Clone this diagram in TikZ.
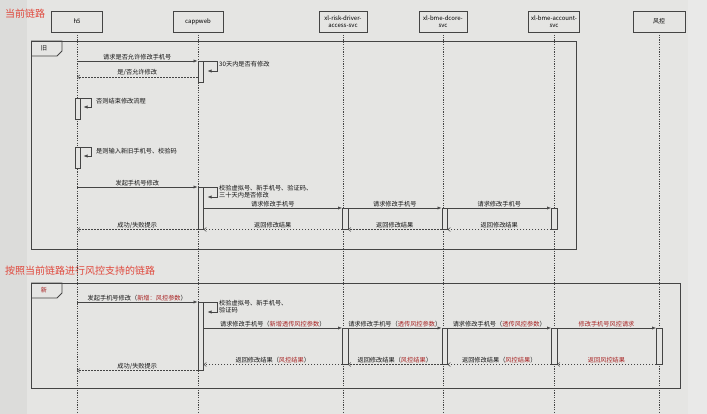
\documentclass[tikz,border=0pt]{standalone}
\usepackage{fontspec}
\setmainfont{Noto Sans CJK SC}
\usetikzlibrary{arrows.meta}
\definecolor{pagegray}{HTML}{DCDCDA}
\definecolor{sidegray}{HTML}{E9E9E8}
\definecolor{sheetgray}{HTML}{E5E5E3}
\definecolor{linegray}{HTML}{444444}
\definecolor{titlered}{HTML}{E0483C}
\definecolor{riskred}{HTML}{A82222}
\newcommand{\hl}[1]{\textcolor{riskred}{#1}}
\tikzset{
  head/.style={draw=linegray, fill=sheetgray, minimum height=21pt, inner sep=1pt, align=center, line width=0.6pt, font=\fontsize{6}{7}\selectfont},
  life/.style={draw=linegray, dash pattern=on 1.2pt off 1.2pt, line width=0.5pt},
  bar/.style={draw=linegray, fill=sheetgray, minimum width=5.5pt, anchor=north, inner sep=0pt, line width=0.5pt},
  call/.style={draw=linegray, line width=0.6pt, -{Latex[length=4pt,width=3.2pt]}},
  reply/.style={draw=linegray, line width=0.5pt, dash pattern=on 1.5pt off 1.5pt, -{Straight Barb[length=2.5pt,width=4pt]}},
  lbl/.style={font=\fontsize{6.2}{7.5}\selectfont, text=black!92, inner sep=1pt},
  frame/.style={draw=linegray, line width=0.8pt},
  title/.style={font=\fontsize{10}{12}\selectfont, text=titlered, inner sep=0pt, anchor=west},
}
\begin{document}
\begin{tikzpicture}[x=1pt,y=-1pt]
        \useasboundingbox (0,0) rectangle (707,414);
        \fill[pagegray] (0,0) rectangle (707,414);
        \fill[sidegray] (688,0) rectangle (707,414);
        \fill[sheetgray] (27,0) rectangle (688,414);
        \coordinate (BOT) at (0,414);
        % titles
        \node[title] (TITLE_OLD) at (5,14) {当前链路};
        \node[title] (TITLE_NEW) at (5,271) {按照当前链路进行风控支持的链路};
        % lifelines
        \node[head, minimum width=51pt] (H5) at (77,21.5) {h5};
        \node[head, minimum width=50pt] (APP) at (198,21.5) {cappweb};
        \node[head, minimum width=48pt] (RISK) at (343,21.5) {xl-risk-driver-\\access-svc};
        \node[head, minimum width=48pt] (DCORE) at (443,21.5) {xl-bme-dcore-\\svc};
        \node[head, minimum width=51pt] (ACCT) at (554,21.5) {xl-bme-account-\\svc};
        \node[head, minimum width=52pt] (FK) at (659,21.5) {风控};
        \foreach \who in {H5,APP,RISK,DCORE,ACCT,FK}
            \draw[life] (\who.south) -- (\who.south |- BOT);
        % frame: old
        \node[frame, minimum width=545pt, minimum height=208pt, anchor=north west, inner sep=0pt] (FR_OLD) at (31,41) {};
        \draw[frame] (FR_OLD.north west) -- ++(31,0) -- ++(0,10) -- ++(-5,5) -- ++(-26,0);
        \node[lbl] (TAB_OLD) at (44,48.5) {旧};
        % frame: new
        \node[frame, minimum width=649pt, minimum height=105pt, anchor=north west, inner sep=0pt] (FR_NEW) at (31,283) {};
        \draw[frame] (FR_NEW.north west) -- ++(31,0) -- ++(0,10) -- ++(-5,5) -- ++(-26,0);
        \node[lbl, text=riskred] (TAB_NEW) at (44,290.5) {新};
        % activation bars, old
        \node[bar, minimum height=21pt] (A1) at (200.5,61) {};
        \node[bar, minimum height=21pt] (B1) at (77.5,98) {};
        \node[bar, minimum height=21pt] (B2) at (77.5,147) {};
        \node[bar, minimum height=42pt] (A2) at (200.5,187) {};
        \node[bar, minimum height=21pt] (R1) at (345,208) {};
        \node[bar, minimum height=21pt] (D1) at (444.5,208) {};
        \node[bar, minimum height=21pt] (C1) at (554,208) {};
        % messages, old
        \draw[call] (H5 |- A1.north) -- (A1.north west) node[midway, above, lbl] {请求是否允许修改手机号};
        \draw[call] (A1.north east) -- ++(14,0) -- ++(0,10) -- ++(-10,0);
        \node[lbl, anchor=west] (N_CHECK30) at (218,64) {30天内是否有修改};
        \draw[reply] (A1.west |- 0,77) -- (H5 |- 0,77) node[midway, above, lbl] {是/否允许修改};
        \draw[call] (B1.north east) -- ++(11,0) -- ++(0,9) -- ++(-8,0);
        \node[lbl, anchor=west] (N_END) at (95,101.5) {否则结束修改流程};
        \draw[call] (B2.north east) -- ++(11,0) -- ++(0,9) -- ++(-8,0);
        \node[lbl, anchor=west] (N_INPUT) at (95,151.5) {是则输入新旧手机号、校验码};
        \draw[call] (H5 |- A2.north) -- (A2.north west) node[midway, above, lbl] {发起手机号修改};
        \draw[call] (A2.north east) -- ++(14,0) -- ++(0,10) -- ++(-10,0);
        \node[lbl, anchor=north west, align=left] (N_VERIFY) at (218,184) {校验虚拟号、新手机号、验证码、\\三十天内是否修改};
        \draw[call] (A2.east |- R1.north) -- (R1.north west) node[midway, above, lbl] {请求修改手机号};
        \draw[call] (R1.north east) -- (D1.north west) node[midway, above, lbl] {请求修改手机号};
        \draw[call] (D1.north east) -- (C1.north west) node[midway, above, lbl] {请求修改手机号};
        \draw[reply] (C1.south west) -- (D1.south east) node[midway, above, lbl] {返回修改结果};
        \draw[reply] (D1.south west) -- (R1.south east) node[midway, above, lbl] {返回修改结果};
        \draw[reply] (R1.south west) -- (A2.south east) node[midway, above, lbl] {返回修改结果};
        \draw[reply] (A2.south west) -- (H5 |- A2.south) node[midway, above, lbl] {成功/失败提示};
        % activation bars, new
        \node[bar, minimum height=68pt] (A3) at (200.5,302) {};
        \node[bar, minimum height=36pt] (R2) at (345,328) {};
        \node[bar, minimum height=36pt] (D2) at (444.5,328) {};
        \node[bar, minimum height=36pt] (C2) at (554,328) {};
        \node[bar, minimum height=36pt] (F2) at (659,328) {};
        % messages, new
        \draw[call] (H5 |- A3.north) -- (A3.north west) node[midway, above, lbl] {发起手机号修改（\hl{新增：风控参数}）};
        \draw[call] (A3.north east) -- ++(14,0) -- ++(0,10) -- ++(-10,0);
        \node[lbl, anchor=north west, align=left] (N_VERIFY_NEW) at (218,299) {校验虚拟号、新手机号、\\验证码};
        \draw[call] (A3.east |- R2.north) -- (R2.north west) node[midway, above, lbl] {请求修改手机号（\hl{新增透传风控参数}）};
        \draw[call] (R2.north east) -- (D2.north west) node[midway, above, lbl] {请求修改手机号（\hl{透传风控参数}）};
        \draw[call] (D2.north east) -- (C2.north west) node[midway, above, lbl] {请求修改手机号（\hl{透传风控参数}）};
        \draw[call] (C2.north east) -- (F2.north west) node[midway, above, lbl] {\hl{修改手机号风控请求}};
        \draw[reply] (F2.south west) -- (C2.south east) node[midway, above, lbl] {\hl{返回风控结果}};
        \draw[reply] (C2.south west) -- (D2.south east) node[midway, above, lbl] {返回修改结果（\hl{风控结果}）};
        \draw[reply] (D2.south west) -- (R2.south east) node[midway, above, lbl] {返回修改结果（\hl{风控结果}）};
        \draw[reply] (R2.south west) -- (A3.east |- R2.south) node[midway, above, lbl] {返回修改结果（\hl{风控结果}）};
        \draw[reply] (A3.south west) -- (H5 |- A3.south) node[midway, above, lbl] {成功/失败提示};
\end{tikzpicture}
\end{document}
